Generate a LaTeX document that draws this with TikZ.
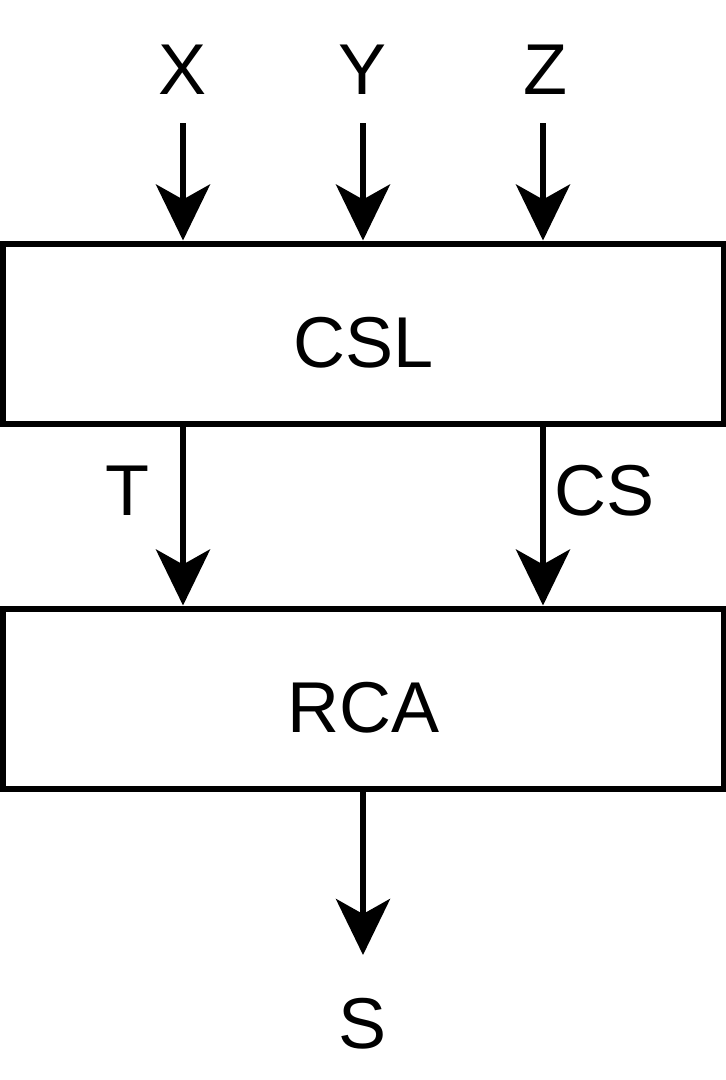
\documentclass[tikz,border=0pt]{standalone}
\usepackage{fontspec}
\setmainfont{Liberation Sans}
\usetikzlibrary{positioning, arrows.meta}

\tikzset{
  block/.style={draw, line width=6pt, minimum width=720.5pt, minimum height=180pt,
                inner sep=0pt, text height=67.5pt, text depth=0pt,
                font=\fontsize{72}{86}\selectfont},
  lbl/.style={inner sep=0pt, font=\fontsize{72}{86}\selectfont},
  arr/.style={line width=6pt, -{Stealth[length=56pt, width=54pt, inset=15pt]}},
}

\begin{document}
\begin{tikzpicture}[x=1pt, y=-1pt]
    \useasboundingbox (0,0) rectangle (726,1080);
    % blocks
    \node[block] (csl) at (363.25,333.5) {CSL};
    \node[block, below=179pt of csl] (rca) {RCA};
    % inputs
    \node[lbl] (x) at (183,70) {X};
    \node[lbl] (y) at (363,70) {Y};
    \node[lbl] (z) at (545,70) {Z};
    \coordinate (xin) at (183,123);
    \coordinate (yin) at (363,123);
    \coordinate (zin) at (543,123);
    \draw[arr] (xin) -- (xin |- csl.north);
    \draw[arr] (yin) -- (yin |- csl.north);
    \draw[arr] (zin) -- (zin |- csl.north);
    % between blocks
    \draw[arr] (xin |- csl.south) -- (xin |- rca.north);
    \draw[arr] (zin |- csl.south) -- (zin |- rca.north);
    \node[lbl] (t) at (127,491) {T};
    \node[lbl] (cs) at (605,491) {CS};
    % output
    \coordinate (sout) at (363,955);
    \draw[arr] (yin |- rca.south) -- (sout);
    \node[lbl] (s) at (363,1024) {S};
\end{tikzpicture}
\end{document}
